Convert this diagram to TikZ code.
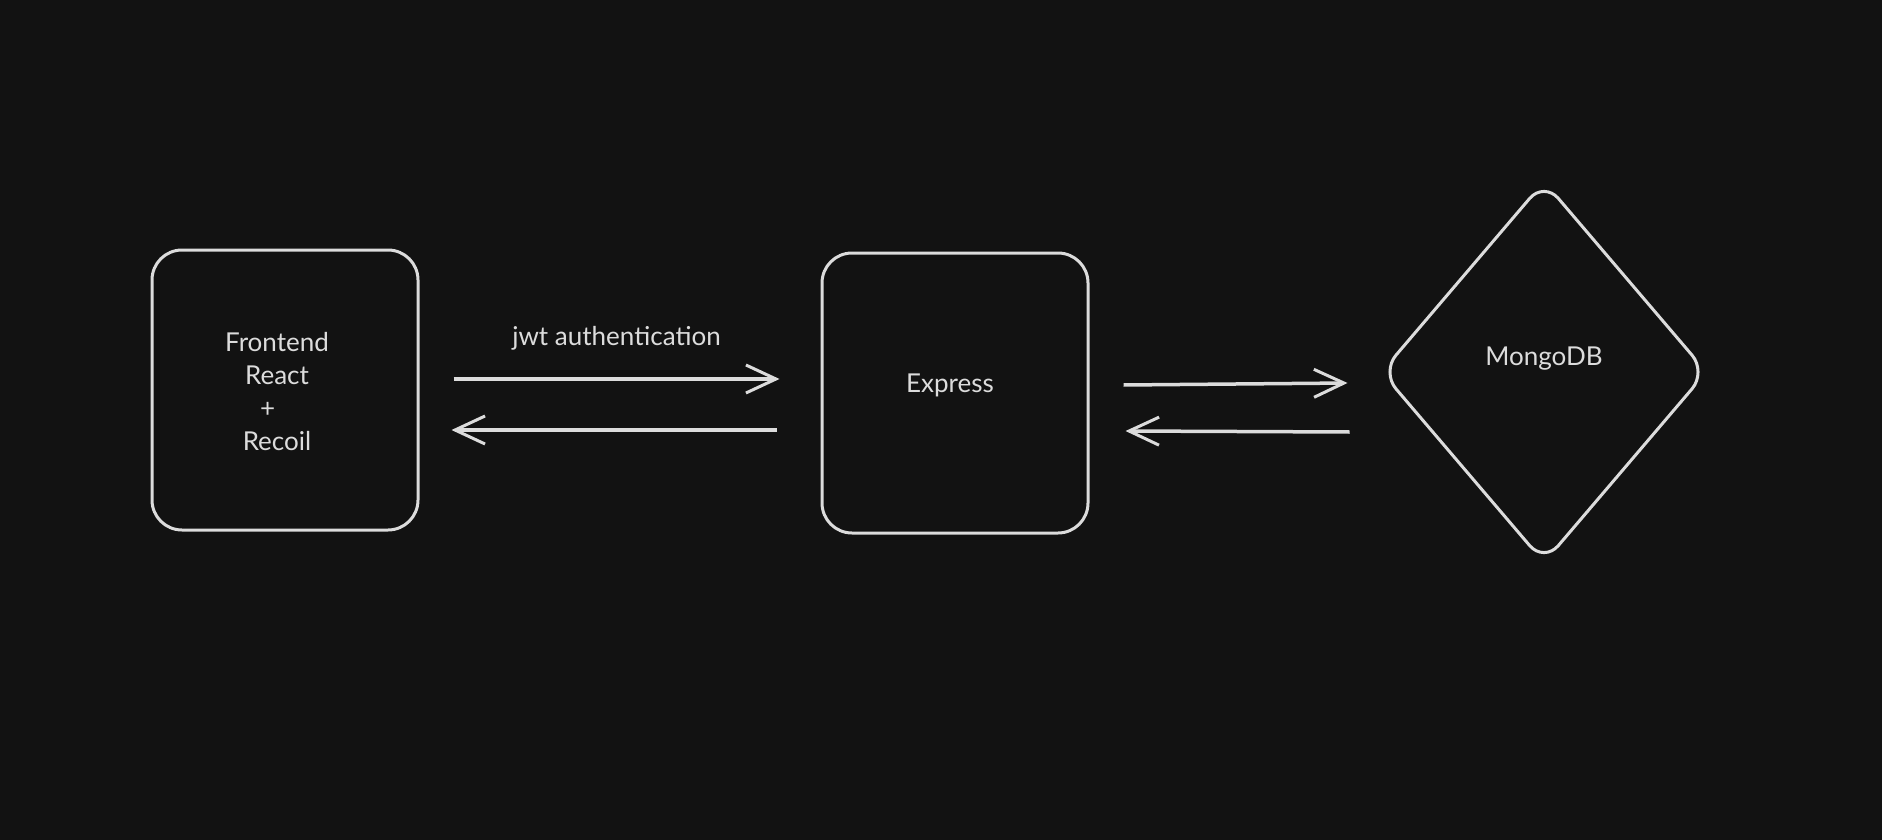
\documentclass[tikz,border=0pt]{standalone}
\usepackage{fontspec}
\setmainfont{Lato}
\usetikzlibrary{shapes.geometric,arrows.meta}

\definecolor{bgcol}{HTML}{121212}
\definecolor{ink}{HTML}{DCDCDC}

\tikzstyle{box} = [draw=ink, line width=3pt, rounded corners=30pt, minimum width=266pt, minimum height=280pt, text=ink, align=center, font=\fontsize{26}{33}\selectfont]
\tikzstyle{db} = [diamond, draw=ink, line width=3pt, rounded corners=22pt, minimum width=326pt, minimum height=382pt, inner sep=0pt, text=ink, font=\fontsize{26}{30}\selectfont]
\tikzstyle{arr} = [draw=ink, line width=3.5pt, -{Straight Barb[length=30pt,width=28pt,line width=3pt]}]

\begin{document}
\begin{tikzpicture}[x=1pt,y=-1pt]
\fill[bgcol] (0,0) rectangle (1882,840);
\useasboundingbox (0,0) rectangle (1882,840);

\node [box] (front) at (285,390) {\raisebox{-11pt}[0pt][0pt]{\begin{tabular}{@{}c@{}}Frontend\\React\\\makebox[34pt][l]{+}\\Recoil\end{tabular}}\hspace{16pt}};
\node [box] (express) at (955,393) {\raisebox{1pt}[0pt][0pt]{Express}\hspace{10pt}};
\node [db] (mongo) at (1544,372) {\raisebox{31pt}{MongoDB}};

% frontend <-> express
\draw [arr] ([xshift=34pt,yshift=11pt]front.east) -- ([xshift=-41pt,yshift=14pt]express.west)
	node[midway, above=24pt, text=ink, font=\fontsize{26}{30}\selectfont] (jwt) {jwt authentication};
\draw [arr] ([xshift=-44pt,yshift=-37pt]express.west) -- ([xshift=32pt,yshift=-40pt]front.east);

% express <-> mongodb
\draw [arr] ([xshift=34pt,yshift=8pt]express.east) -- ([xshift=-32pt,yshift=-11pt]mongo.west);
\draw [arr] ([xshift=-30pt,yshift=-60pt]mongo.west) -- ([xshift=36pt,yshift=-38pt]express.east);
\end{tikzpicture}
\end{document}
